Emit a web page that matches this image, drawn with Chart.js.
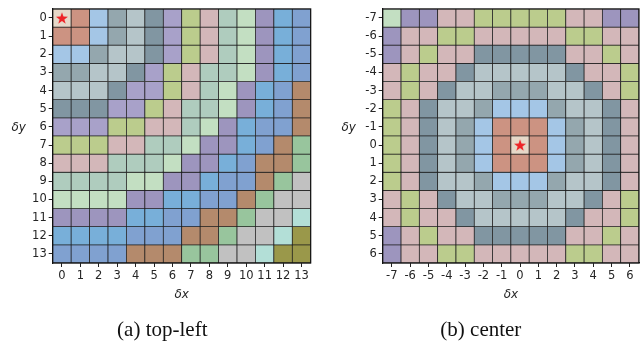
<!DOCTYPE html>
<html>
<head>
<meta charset="utf-8">
<script src="https://cdn.jsdelivr.net/npm/chart.js@4.4.1/dist/chart.umd.min.js"></script>
<style>
  html, body { margin: 0; padding: 0; background: #ffffff; }
  #wrap { position: relative; width: 644px; height: 344px; overflow: hidden; }
  .panel { position: absolute; top: 0; }
  #panelA { left: 0; }
  #panelB { left: 321px; }
</style>
</head>
<body>
<div id="wrap">
  <div class="panel" id="panelA"><canvas id="chartA" width="321" height="344"></canvas></div>
  <div class="panel" id="panelB"><canvas id="chartB" width="323" height="344"></canvas></div>
</div>
<script>
// One colour per distance ring (ring index -> fill colour)
const ringColors = [
  '#e6d8c8', // 0
  '#cc9382', // 1
  '#a4c6e6', // 2
  '#94a7ae', // 3
  '#b5c5c9', // 4
  '#8196a2', // 5
  '#a8a1c9', // 6
  '#bbcc8d', // 7
  '#d3b7b9', // 8
  '#afccbe', // 9
  '#c3dfc2', // 10
  '#9d95be', // 11
  '#78afd9', // 12
  '#80a1d0', // 13
  '#b48a6c', // 14
  '#98c59d', // 15
  '#c1c1c1', // 16
  '#b3dfd7', // 17
  '#9a984a'  // 18
];

// (a) reference point in the top-left corner
const topLeftDx = ['0','1','2','3','4','5','6','7','8','9','10','11','12','13'];
const topLeftDy = [0,1,2,3,4,5,6,7,8,9,10,11,12,13];
const topLeftRings = [
  [0,1,2,3,4,5,6,7,8,9,10,11,12,13],
  [1,1,2,3,4,5,6,7,8,9,10,11,12,13],
  [2,2,3,4,4,5,6,7,8,9,10,11,12,13],
  [3,3,4,4,5,6,7,8,9,9,10,11,12,13],
  [4,4,4,5,6,6,7,8,9,10,11,12,13,14],
  [5,5,5,6,6,7,8,9,9,10,11,12,13,14],
  [6,6,6,7,7,8,8,9,10,11,12,13,13,14],
  [7,7,7,8,8,9,9,10,11,11,12,13,14,15],
  [8,8,8,9,9,9,10,11,11,12,13,14,14,15],
  [9,9,9,9,10,10,11,11,12,13,13,14,15,16],
  [10,10,10,10,11,11,12,12,13,13,14,15,16,16],
  [11,11,11,11,12,12,13,13,14,14,15,16,16,17],
  [12,12,12,12,13,13,13,14,14,15,16,16,17,18],
  [13,13,13,13,14,14,14,15,15,16,16,17,18,18]
];
const topLeftStar = { x: '0', y: 0 };

// (b) reference point in the centre
const centerDx = ['-7','-6','-5','-4','-3','-2','-1','0','1','2','3','4','5','6'];
const centerDy = [-7,-6,-5,-4,-3,-2,-1,0,1,2,3,4,5,6];
const centerRings = [
  [10,11,11,8,8,7,7,7,7,7,8,8,11,11],
  [11,8,8,7,7,8,8,8,8,8,7,7,8,8],
  [11,8,7,8,8,5,5,5,5,5,8,8,7,8],
  [8,7,8,8,5,4,4,4,4,4,5,8,8,7],
  [8,7,8,5,4,4,3,3,3,4,4,5,8,7],
  [7,8,5,4,4,3,2,2,2,3,4,4,5,8],
  [7,8,5,4,3,2,1,1,1,2,3,4,5,8],
  [7,8,5,4,3,2,1,0,1,2,3,4,5,8],
  [7,8,5,4,3,2,1,1,1,2,3,4,5,8],
  [7,8,5,4,4,3,2,2,2,3,4,4,5,8],
  [8,7,8,5,4,4,3,3,3,4,4,5,8,7],
  [8,7,8,8,5,4,4,4,4,4,5,8,8,7],
  [11,8,7,8,8,5,5,5,5,5,8,8,7,8],
  [11,8,8,7,7,8,8,8,8,8,7,7,8,8]
];
const centerStar = { x: '0', y: 0 };

const tickFont = { family: '"DejaVu Sans", sans-serif', size: 11.5 };
const inkColor = '#262626';

// filled five-pointed star used as the point marker
function starMarker(size, color) {
  const c = document.createElement('canvas');
  c.width = size; c.height = size;
  const g = c.getContext('2d');
  const R = size * 0.45, r = R * 0.40, cx = size / 2, cy = size / 2 + 0.6;
  g.beginPath();
  for (let k = 0; k < 10; k++) {
    const rad = k % 2 ? r : R;
    const a = -Math.PI / 2 + k * Math.PI / 5;
    g.lineTo(cx + rad * Math.cos(a), cy + rad * Math.sin(a));
  }
  g.closePath();
  g.fillStyle = color;
  g.fill();
  return c;
}
const star = starMarker(14, '#ee2326');

// frame around the plot area and the horizontal δy label
const framePlugin = {
  id: 'frame',
  afterDraw(chart, args, opts) {
    const { ctx, chartArea: a } = chart;
    ctx.save();
    ctx.strokeStyle = '#111';
    ctx.lineWidth = 1.2;
    ctx.strokeRect(a.left, a.top, a.right - a.left, a.bottom - a.top);
    ctx.fillStyle = inkColor;
    ctx.font = 'italic 12px "DejaVu Sans", sans-serif';
    ctx.textAlign = 'center';
    ctx.textBaseline = 'middle';
    ctx.fillText(opts.yTitle, a.left - 34, (a.top + a.bottom) / 2 - 8);
    ctx.restore();
  }
};

function buildChart(canvasId, dx, dy, rings, starPoint, caption, pad, yWidth) {
  const datasets = [{
    type: 'line',
    data: [starPoint],
    showLine: false,
    pointStyle: star,
    order: -1
  }];
  rings.forEach((row, i) => {
    datasets.push({
      type: 'bar',
      data: row.map(() => [dy[i] - 0.5, dy[i] + 0.5]),
      backgroundColor: row.map(k => ringColors[k]),
      borderColor: '#1c1c1c',
      borderWidth: 0.75,
      borderSkipped: false,
      grouped: false,
      categoryPercentage: 1,
      barPercentage: 1,
      order: 1
    });
  });

  return new Chart(document.getElementById(canvasId), {
    type: 'bar',
    data: { labels: dx, datasets },
    options: {
      responsive: false,
      animation: false,
      events: [],
      layout: { padding: pad },
      plugins: {
        legend: { display: false },
        tooltip: { enabled: false },
        title: {
          display: true,
          position: 'bottom',
          text: caption,
          color: '#111',
          padding: 0,
          font: { family: '"Liberation Serif", "Times New Roman", serif', size: 21, weight: 'normal' }
        },
        frame: { yTitle: 'δy' }
      },
      scales: {
        x: {
          type: 'category',
          offset: true,
          grid: { display: true, offset: false, drawOnChartArea: false, drawTicks: true, tickLength: 4, color: '#222' },
          border: { display: true, color: '#111', width: 1.2 },
          ticks: { font: tickFont, color: inkColor, padding: 2, maxRotation: 0, autoSkip: false },
          title: {
            display: true,
            text: 'δx',
            color: inkColor,
            font: { family: '"DejaVu Sans", sans-serif', size: 12, style: 'italic' },
            padding: { top: 0, bottom: 15 }
          },
          afterFit(scale) { scale.height = 54.4; }
        },
        y: {
          type: 'linear',
          reverse: true,
          min: dy[0] - 0.5,
          max: dy[dy.length - 1] + 0.5,
          afterBuildTicks(scale) { scale.ticks = dy.map(v => ({ value: v })); },
          grid: { display: true, drawOnChartArea: false, drawTicks: true, tickLength: 4, color: '#222' },
          border: { display: true, color: '#111', width: 1.2 },
          ticks: {
            font: tickFont,
            color: inkColor,
            padding: 2,
            autoSkip: false,
            callback: (v) => String(dy[dy.indexOf(v)])
          },
          afterFit(scale) { scale.width = yWidth; }
        }
      }
    },
    plugins: [framePlugin]
  });
}

buildChart('chartA', topLeftDx, topLeftDy, topLeftRings, topLeftStar, '(a) top-left',
  { left: 13.9, right: 10.3, top: 5.3, bottom: 1.4 }, 38.8);
buildChart('chartB', centerDx, centerDy, centerRings, centerStar, '(b) center',
  { left: 0, right: 3.3, top: 5.3, bottom: 1.4 }, 61.7);
</script>
</body>
</html>
